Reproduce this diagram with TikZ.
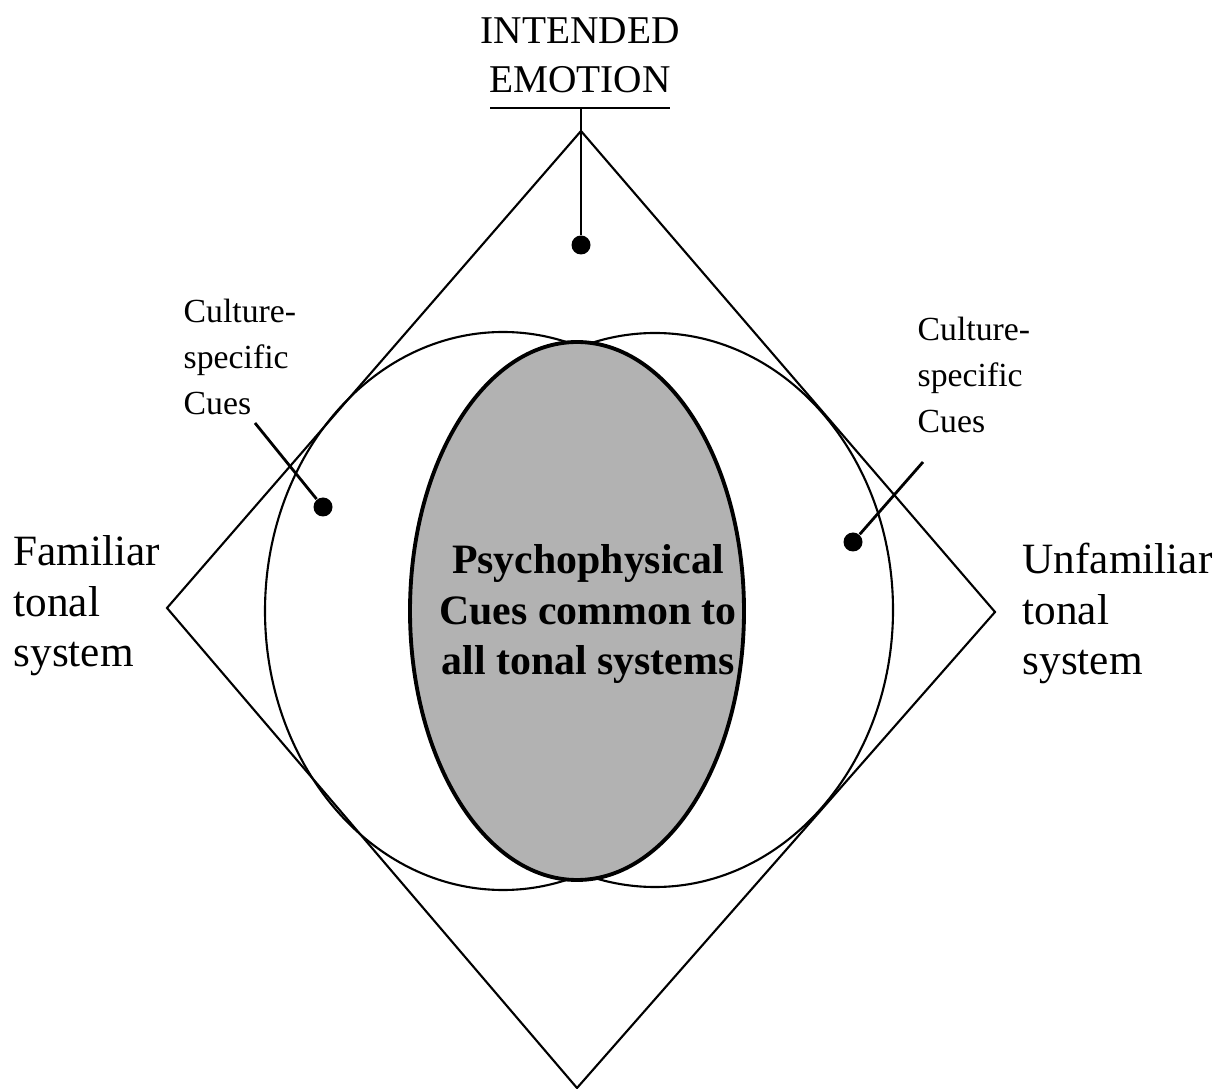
\documentclass[tikz,border=0pt]{standalone}
\usepackage{fontspec}
\setmainfont{Liberation Serif}
\usetikzlibrary{arrows.meta, positioning}

\begin{document}
\begin{tikzpicture}[
    thinline/.style={line width=0.6pt},
    leader/.style={line width=0.8pt},
    cuedot/.style={circle, fill=black, inner sep=0pt, minimum size=0.19cm},
    sidelabel/.style={align=left, anchor=base west, inner sep=0pt,
        font=\fontsize{12.3}{14.5}\selectfont},
    cuelabel/.style={align=left, anchor=base west, inner sep=0pt,
        font=\fontsize{9.6}{13.1}\selectfont},
    every node/.style={inner sep=0pt}]
    \useasboundingbox (0,0) rectangle (12.27,-10.89);

    % diamond
    \coordinate (dtop) at (5.81,-1.31);
    \coordinate (dleft) at (1.67,-6.08);
    \coordinate (dright) at (9.95,-6.12);
    \coordinate (dbottom) at (5.77,-10.88);
    \draw[thinline] (dtop) -- (dright) -- (dbottom) -- (dleft) -- cycle;

    % tonal systems and shared cues
    \draw[thinline] (5.03,-6.11) ellipse [x radius=2.38, y radius=2.79];
    \draw[thinline] (6.55,-6.10) ellipse [x radius=2.38, y radius=2.77];
    \draw[line width=1.1pt, fill=black!30] (5.77,-6.11) ellipse [x radius=1.67, y radius=2.69];

    \node[align=center, anchor=base, font=\bfseries\fontsize{11.9}{14.5}\selectfont]
        (common) at (5.88,-6.75) {Psychophysical\\Cues common to\\all tonal systems};

    % intended emotion
    \node[align=center, anchor=base, font=\fontsize{11.2}{14.2}\selectfont]
        (emotion) at (5.80,-0.93) {INTENDED\\EMOTION};
    \coordinate (ulleft) at (4.90,-1.08);
    \coordinate (ulright) at (6.70,-1.08);
    \coordinate (ulmid) at (5.81,-1.08);
    \draw[leader] (ulleft) -- (ulright);
    \node[cuedot] (topdot) at (5.81,-2.45) {};
    \draw[leader] (ulmid) -- (topdot);

    % culture-specific cues
    \node[cuelabel] (cueleft) at (1.83,-4.15) {Culture-\\specific\\Cues};
    \node[cuelabel] (cueright) at (9.17,-4.33) {Culture-\\specific\\Cues};
    \coordinate (leadleft) at (2.55,-4.23);
    \coordinate (leadright) at (9.23,-4.62);
    \node[cuedot] (leftdot) at (3.23,-5.07) {};
    \node[cuedot] (rightdot) at (8.53,-5.42) {};
    \draw[leader] (leadleft) -- (leftdot);
    \draw[leader] (leadright) -- (rightdot);

    % tonal system labels
    \node[sidelabel] (familiar) at (0.13,-6.67) {Familiar\\tonal\\system};
    \node[sidelabel] (unfamiliar) at (10.22,-6.75) {Unfamiliar\\tonal\\system};

\end{tikzpicture}
\end{document}
